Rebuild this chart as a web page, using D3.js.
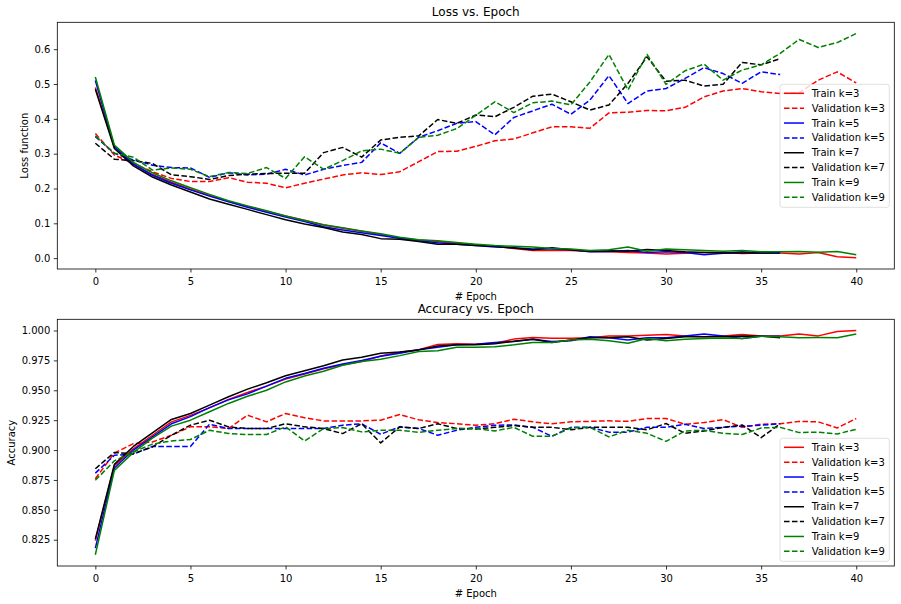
<!DOCTYPE html>
<html>
<head>
<meta charset="utf-8">
<title>Loss / Accuracy vs. Epoch</title>
<script src="https://cdnjs.cloudflare.com/ajax/libs/d3/7.8.5/d3.min.js"></script>
<style>
body { margin: 0; background: #fff; }
svg text { font-family: "DejaVu Sans", sans-serif; fill: #000; }
</style>
</head>
<body>
<div id="chart"></div>
<script>
var w = 901, h = 604;

// ---- data ----
var xTicks = [0, 5, 10, 15, 20, 25, 30, 35, 40];
var lossTicks = [0.0, 0.1, 0.2, 0.3, 0.4, 0.5, 0.6];
var accTicks = [0.825, 0.850, 0.875, 0.900, 0.925, 0.950, 0.975, 1.000];

var seriesNames = ['Train k=3', 'Validation k=3', 'Train k=5', 'Validation k=5',
                   'Train k=7', 'Validation k=7', 'Train k=9', 'Validation k=9'];
var seriesColors = ['#ff0000', '#ff0000', '#0000ff', '#0000ff', '#000000', '#000000', '#008000', '#008000'];
var seriesDashed = [false, true, false, true, false, true, false, true];

var lossTrain3 = [0.49,0.32,0.27,0.24,0.218,0.198,0.18,0.163,0.148,0.135,
  0.121,0.109,0.095,0.086,0.077,0.068,0.058,0.052,0.048,0.043,
  0.038,0.034,0.028,0.022,0.022,0.022,0.019,0.018,0.016,0.015,
  0.012,0.014,0.016,0.016,0.013,0.015,0.015,0.012,0.016,0.004,0.001];
var lossVal3 = [0.358,0.296,0.272,0.248,0.229,0.220,0.220,0.231,0.218,0.215,
  0.202,0.215,0.227,0.239,0.245,0.240,0.248,0.277,0.306,0.307,
  0.321,0.337,0.342,0.360,0.377,0.377,0.373,0.417,0.419,0.424,
  0.423,0.433,0.463,0.480,0.487,0.478,0.473,0.475,0.511,0.535,0.503];
var lossTrain5 = [0.51,0.32,0.27,0.238,0.215,0.196,0.178,0.162,0.146,0.132,
  0.118,0.105,0.09,0.081,0.073,0.065,0.057,0.05,0.044,0.04,
  0.036,0.032,0.03,0.026,0.026,0.024,0.018,0.019,0.022,0.016,
  0.018,0.016,0.01,0.014,0.018,0.015,0.014];
var lossVal5 = [0.349,0.301,0.282,0.267,0.260,0.259,0.232,0.245,0.239,0.241,
  0.255,0.239,0.255,0.266,0.275,0.331,0.301,0.347,0.366,0.387,
  0.392,0.354,0.404,0.423,0.442,0.413,0.454,0.524,0.444,0.480,
  0.487,0.516,0.547,0.530,0.502,0.535,0.527];
var lossTrain7 = [0.485,0.315,0.265,0.233,0.21,0.19,0.17,0.155,0.14,0.125,
  0.11,0.098,0.088,0.075,0.068,0.056,0.054,0.048,0.04,0.04,
  0.036,0.034,0.029,0.024,0.03,0.024,0.02,0.021,0.02,0.025,
  0.022,0.018,0.016,0.015,0.015,0.015,0.016];
var lossVal7 = [0.330,0.284,0.280,0.272,0.239,0.234,0.226,0.237,0.241,0.243,
  0.244,0.244,0.303,0.318,0.290,0.339,0.347,0.351,0.398,0.387,
  0.411,0.406,0.433,0.465,0.471,0.449,0.425,0.440,0.502,0.578,
  0.508,0.511,0.494,0.499,0.562,0.555,0.573];
var lossTrain9 = [0.52,0.325,0.275,0.245,0.222,0.202,0.183,0.165,0.15,0.136,
  0.121,0.108,0.096,0.087,0.078,0.07,0.06,0.053,0.05,0.045,
  0.04,0.036,0.034,0.032,0.028,0.026,0.022,0.024,0.032,0.02,
  0.026,0.024,0.022,0.02,0.022,0.018,0.018,0.019,0.017,0.019,0.01];
var lossVal9 = [0.351,0.301,0.290,0.253,0.259,0.255,0.234,0.246,0.243,0.260,
  0.229,0.291,0.255,0.280,0.308,0.313,0.301,0.347,0.353,0.372,
  0.410,0.449,0.418,0.446,0.451,0.440,0.506,0.585,0.483,0.585,
  0.499,0.538,0.557,0.511,0.540,0.555,0.588,0.628,0.605,0.619,0.645];

var accTrain3 = [0.8242,0.887,0.901,0.9124,0.9236,0.929,0.9353,0.9424,0.9482,0.9535,
  0.9594,0.9636,0.968,0.9713,0.974,0.9787,0.9818,0.984,0.9884,0.989,
  0.9886,0.9894,0.9928,0.9941,0.9936,0.9936,0.994,0.9955,0.9955,0.996,
  0.9966,0.9955,0.9947,0.9955,0.9966,0.9955,0.9955,0.997,0.9955,0.9992,1.000];
var accVal3 = [0.876,0.8975,0.9054,0.9068,0.9124,0.9194,0.9194,0.918,0.9292,0.9236,
  0.9306,0.927,0.9244,0.9244,0.9244,0.925,0.9297,0.9253,0.923,0.922,
  0.9208,0.922,0.9258,0.9236,0.922,0.9236,0.924,0.9245,0.924,0.9264,
  0.9264,0.9216,0.923,0.9255,0.919,0.9216,0.922,0.924,0.9236,0.9185,0.9264];
var accTrain5 = [0.818,0.885,0.900,0.911,0.922,0.928,0.9355,0.942,0.947,0.9535,
  0.960,0.964,0.9685,0.972,0.975,0.9785,0.981,0.984,0.986,0.988,
  0.9886,0.990,0.9908,0.9926,0.9908,0.9915,0.9947,0.994,0.9921,0.994,
  0.994,0.9955,0.997,0.9955,0.9933,0.9953,0.9953];
var accVal5 = [0.8807,0.8956,0.8966,0.903,0.903,0.903,0.9216,0.918,0.918,0.918,
  0.918,0.918,0.918,0.9208,0.922,0.9132,0.9194,0.918,0.9124,0.9166,
  0.919,0.9208,0.921,0.919,0.9115,0.919,0.919,0.915,0.915,0.919,
  0.919,0.9216,0.918,0.919,0.920,0.9208,0.922];
var accTrain7 = [0.8256,0.888,0.903,0.9143,0.9256,0.9306,0.9376,0.9446,0.951,0.9563,
  0.9622,0.9664,0.9706,0.9754,0.9776,0.981,0.982,0.9838,0.9871,0.988,
  0.988,0.989,0.991,0.9926,0.990,0.992,0.994,0.994,0.9947,0.992,
  0.9933,0.9947,0.9947,0.9947,0.9955,0.9953,0.994];
var accVal7 = [0.8844,0.898,0.897,0.9026,0.9124,0.9208,0.925,0.9194,0.918,0.918,
  0.922,0.9194,0.918,0.9138,0.922,0.906,0.9194,0.918,0.922,0.918,
  0.9177,0.919,0.9205,0.919,0.919,0.917,0.919,0.919,0.919,0.917,
  0.9222,0.914,0.916,0.919,0.921,0.9104,0.922];
var accTrain9 = [0.8124,0.883,0.898,0.910,0.920,0.925,0.932,0.939,0.945,0.950,
  0.957,0.962,0.966,0.971,0.974,0.976,0.979,0.9825,0.983,0.986,
  0.986,0.9865,0.988,0.990,0.990,0.992,0.9926,0.9915,0.9894,0.9933,
  0.9915,0.9926,0.9933,0.9938,0.9933,0.9953,0.9947,0.994,0.9941,0.994,0.997];
var accVal9 = [0.8747,0.891,0.8984,0.905,0.9076,0.9088,0.9166,0.9138,0.913,0.913,
  0.9194,0.9076,0.918,0.9188,0.9152,0.9166,0.9166,0.9148,0.9166,0.918,
  0.918,0.916,0.919,0.9115,0.9115,0.9185,0.919,0.911,0.9166,0.914,
  0.9073,0.916,0.9166,0.914,0.913,0.9185,0.919,0.9146,0.915,0.9135,0.9174];

var lossSeries = [lossTrain3, lossVal3, lossTrain5, lossVal5, lossTrain7, lossVal7, lossTrain9, lossVal9];
var accSeries = [accTrain3, accVal3, accTrain5, accVal5, accTrain7, accVal7, accTrain9, accVal9];

var svg = d3.select('#chart')
  .append('svg')
  .attr('width', w)
  .attr('height', h);

svg.append('rect').attr('width', w).attr('height', h).attr('fill', '#fff');

var left = 57.3, right = 894.3;

// matplotlib style autoscale: 5% margin each side
function padded(arr) {
  var ext = d3.extent(d3.merge(arr));
  var m = (ext[1] - ext[0]) * 0.05;
  return [ext[0] - m, ext[1] + m];
}

function panel(opt) {
  var g = svg.append('g');
  var x = d3.scaleLinear().domain([-2, 42]).range([left, right]);
  var y = d3.scaleLinear().domain(padded(opt.series)).range([opt.bottom, opt.top]);

  var xAxis = g.append('g')
    .attr('transform', 'translate(0,' + opt.bottom + ')')
    .call(d3.axisBottom(x).tickValues(xTicks).tickSize(3.5).tickPadding(3.5).tickFormat(d3.format('d')));
  var yAxis = g.append('g')
    .attr('transform', 'translate(' + left + ',0)')
    .call(d3.axisLeft(y).tickValues(opt.ticks).tickSize(3.5).tickPadding(3.5).tickFormat(d3.format(opt.fmt)));

  [xAxis, yAxis].forEach(function(a) {
    a.select('.domain').remove();
    a.selectAll('line').attr('stroke', '#000').attr('stroke-width', 0.8);
    a.selectAll('text').attr('font-size', '10px').attr('font-family', 'DejaVu Sans').attr('fill', '#000');
  });
  xAxis.selectAll('text').attr('dy', null).attr('y', 16);

  var line = d3.line()
    .x(function(d, i) { return x(i); })
    .y(function(d) { return y(d); });

  var clip = 'clip' + opt.id;
  g.append('clipPath').attr('id', clip)
    .append('rect').attr('x', left).attr('y', opt.top)
    .attr('width', right - left).attr('height', opt.bottom - opt.top);

  g.append('g').attr('clip-path', 'url(#' + clip + ')')
    .selectAll('path')
    .data(opt.series)
    .enter()
    .append('path')
    .attr('d', line)
    .attr('fill', 'none')
    .attr('stroke', function(d, i) { return seriesColors[i]; })
    .attr('stroke-width', 1.5)
    .attr('stroke-linejoin', 'round')
    .attr('stroke-dasharray', function(d, i) { return seriesDashed[i] ? '5.55,2.4' : null; });

  // frame
  g.append('rect')
    .attr('x', left).attr('y', opt.top)
    .attr('width', right - left).attr('height', opt.bottom - opt.top)
    .attr('fill', 'none').attr('stroke', '#000').attr('stroke-width', 0.8);

  g.append('text')
    .attr('x', (left + right) / 2).attr('y', opt.top - 6)
    .attr('text-anchor', 'middle').attr('font-size', '12px')
    .text(opt.title);

  g.append('text')
    .attr('x', (left + right) / 2).attr('y', opt.bottom + 30.5)
    .attr('text-anchor', 'middle').attr('font-size', '10px')
    .text('# Epoch');

  g.append('text')
    .attr('transform', 'translate(' + opt.ylabelX + ',' + ((opt.top + opt.bottom) / 2) + ') rotate(-90)')
    .attr('text-anchor', 'middle').attr('font-size', '10px')
    .text(opt.ylabel);

  // legend
  var lw = 109.3, lh = 123;
  var lx = right - 5 - lw;
  var ly = opt.legendTop;
  var leg = g.append('g').attr('transform', 'translate(' + lx + ',' + ly + ')');
  leg.append('rect')
    .attr('width', lw).attr('height', lh).attr('rx', 2.5)
    .attr('fill', '#fff').attr('fill-opacity', 0.8)
    .attr('stroke', '#cccccc').attr('stroke-opacity', 0.8).attr('stroke-width', 0.8);
  var rows = leg.selectAll('g.row')
    .data(seriesNames)
    .enter()
    .append('g')
    .attr('class', 'row')
    .attr('transform', function(d, i) { return 'translate(0,' + (9 + i * 14.86) + ')'; });
  rows.append('line')
    .attr('x1', 4).attr('x2', 24).attr('y1', 0).attr('y2', 0)
    .attr('stroke', function(d, i) { return seriesColors[i]; })
    .attr('stroke-width', 1.5)
    .attr('stroke-dasharray', function(d, i) { return seriesDashed[i] ? '5.55,2.4' : null; });
  rows.append('text')
    .attr('x', 31.7).attr('y', 3.6)
    .attr('font-size', '10px')
    .text(function(d) { return d; });
}

panel({
  id: 'loss', series: lossSeries, top: 22.3, bottom: 269,
  ticks: lossTicks, fmt: '.1f', title: 'Loss vs. Epoch',
  ylabel: 'Loss function', ylabelX: 27.5, legendTop: 84.3
});

panel({
  id: 'acc', series: accSeries, top: 319.3, bottom: 566,
  ticks: accTicks, fmt: '.3f', title: 'Accuracy vs. Epoch',
  ylabel: 'Accuracy', ylabelX: 14.5, legendTop: 438.3
});
</script>
</body>
</html>
